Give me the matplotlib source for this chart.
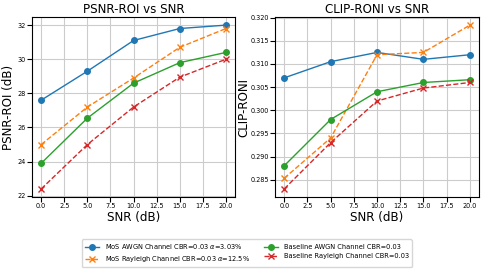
import matplotlib
matplotlib.use("Agg")
import matplotlib.pyplot as plt

snr = [0, 5, 10, 15, 20]

psnr_mos_awgn = [27.6, 29.3, 31.1, 31.8, 32.0]
psnr_mos_ray = [25.0, 27.2, 28.9, 30.7, 31.8]
psnr_base_awgn = [23.9, 26.55, 28.6, 29.8, 30.4]
psnr_base_ray = [22.4, 25.0, 27.2, 28.95, 30.0]

clip_mos_awgn = [0.307, 0.3105, 0.3125, 0.311, 0.312]
clip_mos_ray = [0.2853, 0.294, 0.312, 0.3125, 0.3184]
clip_base_awgn = [0.288, 0.298, 0.304, 0.306, 0.3066]
clip_base_ray = [0.283, 0.293, 0.302, 0.3048, 0.306]

labels = [
    r"MoS AWGN Channel CBR=0.03 $\alpha$=3.03%",
    r"MoS Rayleigh Channel CBR=0.03 $\alpha$=12.5%",
    "Baseline AWGN Channel CBR=0.03",
    "Baseline Rayleigh Channel CBR=0.03",
]

styles = [
    dict(color="#1f77b4", linestyle="-", marker="o"),
    dict(color="#ff7f0e", linestyle="--", marker="x"),
    dict(color="#2ca02c", linestyle="-", marker="o"),
    dict(color="#d62728", linestyle="--", marker="x"),
]

fig = plt.figure(figsize=(4.84, 2.73), dpi=100)
ax1 = fig.add_axes([0.066, 0.278, 0.420, 0.660])
ax2 = fig.add_axes([0.568, 0.278, 0.422, 0.660])

handles = []
for ys, st, lab in zip([psnr_mos_awgn, psnr_mos_ray, psnr_base_awgn, psnr_base_ray], styles, labels):
    h, = ax1.plot(snr, ys, label=lab, linewidth=1.0, markersize=4, **st)
    handles.append(h)
for ys, st in zip([clip_mos_awgn, clip_mos_ray, clip_base_awgn, clip_base_ray], styles):
    ax2.plot(snr, ys, linewidth=1.0, markersize=4, **st)

fs = 8.6
ax1.set_title("PSNR-ROI vs SNR", fontsize=fs, pad=3)
ax1.set_xlabel("SNR (dB)", fontsize=fs, labelpad=1)
ax1.set_ylabel("PSNR-ROI (dB)", fontsize=fs)
ax2.set_title("CLIP-RONI vs SNR", fontsize=fs, pad=3)
ax2.set_xlabel("SNR (dB)", fontsize=fs, labelpad=1)
ax2.set_ylabel("CLIP-RONI", fontsize=fs)
ax1.yaxis.set_label_coords(-0.085, 0.5)
ax2.yaxis.set_label_coords(-0.118, 0.5)

for ax in (ax1, ax2):
    ax.grid(True, color="#cccccc", linewidth=0.8)
    ax.tick_params(labelsize=4.7, length=3.5, pad=1)
    ax.set_xticks([0, 2.5, 5, 7.5, 10, 12.5, 15, 17.5, 20])

ax1.set_yticks([22, 24, 26, 28, 30, 32])

fig.legend(handles=handles, loc="lower center", bbox_to_anchor=(0.51, 0.01), ncol=2,
           fontsize=4.8, frameon=True, handlelength=2.2, columnspacing=2.1)

fig.savefig("out.png", dpi=100)
